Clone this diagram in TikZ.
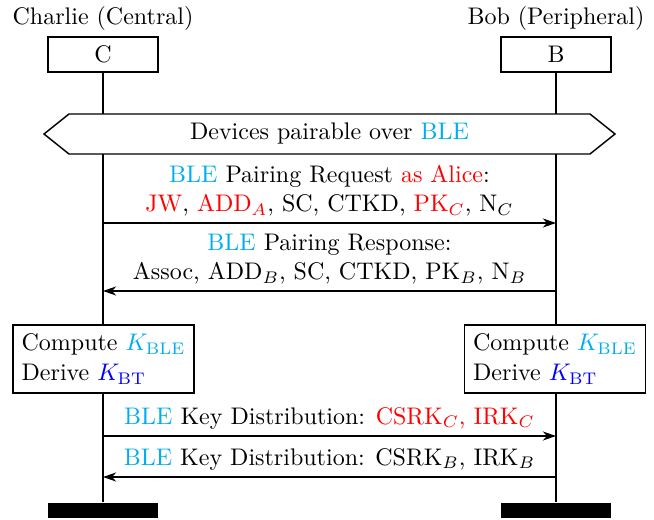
\documentclass[tikz,border=0pt]{standalone}
\usetikzlibrary{arrows.meta}
\definecolor{blecol}{RGB}{0,174,239}
\definecolor{keyred}{RGB}{255,0,0}
\definecolor{btblue}{RGB}{0,0,255}
\newcommand{\ble}{\textcolor{blecol}{BLE}}
\begin{document}
\begin{tikzpicture}[x=0.41667pt,y=-0.41667pt,
  line width=0.6pt,
  headbox/.style={draw,minimum width=45.8pt,minimum height=14.6pt,inner sep=0pt},
  endbar/.style={fill=black,draw=none,minimum width=45.8pt,minimum height=6.3pt,inner sep=0pt},
  actbox/.style={draw,fill=white,minimum width=75.4pt,minimum height=28.3pt,
                 inner sep=0pt,align=left},
  msg/.style={-{Stealth[length=5.5pt,width=3.8pt]}},
  msglabel/.style={above,align=center,inner sep=2.5pt},
  lifeline/.style={draw}]
\useasboundingbox (0,0) rectangle (654,520);

% instance heads
\node (cname) at (103,18) {Charlie (Central)};
\node (bname) at (556,18) {Bob (Peripheral)};
\node[headbox] (C) at (103,54.5) {C};
\node[headbox] (B) at (556,54.5) {B};

% instance ends
\node[endbar] (Cend) at (103,510.5) {};
\node[endbar] (Bend) at (556,510.5) {};

% lifelines
\draw (C.south) -- (Cend.north);
\draw (B.south) -- (Bend.north);

% condition
\draw[fill=white] (44,134) -- (69,114) -- (590,114) -- (615,134) -- (590,154) -- (69,154) -- cycle;
\node (cond) at (329.5,134) {Devices pairable over \ble};

% pairing request / response
\coordinate (c1) at (103,223);
\coordinate (b1) at (556,223);
\coordinate (b2) at (556,291);
\coordinate (c2) at (103,291);
\draw[msg] (c1) -- node[msglabel] (m1) {\ble{} Pairing Request \textcolor{keyred}{as Alice}:\\
  \textcolor{keyred}{JW}, \textcolor{keyred}{ADD$_A$}, SC, CTKD, \textcolor{keyred}{PK$_C$}, N$_C$} (b1);
\draw[msg] (b2) -- node[msglabel] (m2) {\ble{} Pairing Response:\\
  Assoc, ADD$_B$, SC, CTKD, PK$_B$, N$_B$} (c2);

% local actions
\node[actbox] (actC) at (103.5,359) {Compute \textcolor{blecol}{$K_{\mathrm{BLE}}$}\\[0.5pt]Derive \textcolor{btblue}{$K_{\mathrm{BT}}$}};
\node[actbox] (actB) at (555,359) {Compute \textcolor{blecol}{$K_{\mathrm{BLE}}$}\\[0.5pt]Derive \textcolor{btblue}{$K_{\mathrm{BT}}$}};

% key distribution
\coordinate (c3) at (103,436);
\coordinate (b3) at (556,436);
\coordinate (b4) at (556,477);
\coordinate (c4) at (103,477);
\draw[msg] (c3) -- node[msglabel] (m3) {\ble{} Key Distribution: \textcolor{keyred}{CSRK$_C$, IRK$_C$}} (b3);
\draw[msg] (b4) -- node[msglabel] (m4) {\ble{} Key Distribution: CSRK$_B$, IRK$_B$} (c4);
\end{tikzpicture}
\end{document}
